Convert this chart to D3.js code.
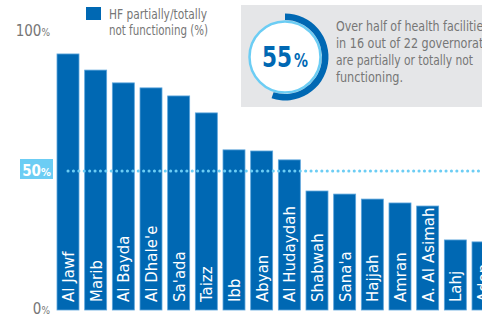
<!DOCTYPE html>
<html>
<head>
<meta charset="utf-8">
<script src="https://cdn.jsdelivr.net/npm/d3@7"></script>
<style>
  html, body { margin: 0; padding: 0; background: #fff; }
  svg { display: block; }
  text { font-family: "Liberation Sans Narrow", "DejaVu Sans Condensed", "Roboto Condensed", sans-serif; }
</style>
</head>
<body>
<svg id="chart" width="482" height="319"></svg>
<script>
const categories = ["Al Jawf","Marib","Al Bayda","Al Dhale'e","Sa'ada","Taizz","Ibb","Abyan","Al Hudaydah","Shabwah","Sana'a","Hajjah","Amran","A. Al Asimah","Lahj","Aden"];
const values = [92.1, 86.3, 81.7, 79.9, 77.0, 70.9, 57.6, 57.2, 54.0, 42.8, 41.7, 39.9, 38.5, 37.4, 25.2, 24.5];
const yTicks = [0, 50, 100];
const threshold = 50;
const seriesLabel = ["HF partially/totally", "not functioning (%)"];
const calloutValue = 55;
const calloutText = ["Over half of health facilities", "in 16 out of 22 governorates", "are partially or totally not", "functioning."];

const svg = d3.select("#chart");
const W = 482, H = 319;

const x = d3.scaleBand().domain(categories).range([57, 494]).paddingInner(0.205).paddingOuter(0);
const y = d3.scaleLinear().domain([0, 100]).range([310, 32]);

const blue = "#0068b3";
const light = "#6ccdf4";
const gray = "#767676";

// callout box
const box = svg.append("g");
box.append("rect").attr("x", 241).attr("y", 5).attr("width", 260).attr("height", 102).attr("fill", "#e5e6e8");
const cx = 285, cy = 57;
box.append("circle").attr("cx", cx).attr("cy", cy).attr("r", 35.5).attr("fill", "#fff").attr("stroke", light).attr("stroke-width", 2.5);
const arc = d3.arc().innerRadius(37).outerRadius(43.5).startAngle(0).endAngle(2 * Math.PI * calloutValue / 100);
box.append("path").attr("transform", `translate(${cx},${cy})`).attr("d", arc()).attr("fill", blue);
box.append("text").attr("x", cx + 7).attr("y", cy + 10).attr("text-anchor", "end")
  .attr("fill", blue).attr("font-size", 29).attr("font-weight", "bold")
  .attr("textLength", 30).attr("lengthAdjust", "spacingAndGlyphs").text(calloutValue);
box.append("text").attr("x", cx + 9).attr("y", cy + 10).attr("text-anchor", "start")
  .attr("fill", blue).attr("font-size", 19).attr("font-weight", "bold")
  .attr("textLength", 14).attr("lengthAdjust", "spacingAndGlyphs").text("%");
const capLen = [153, 160, 137, 67];
box.selectAll("text.cap").data(calloutText).join("text").attr("class", "cap")
  .attr("x", 336).attr("y", (d, i) => 31 + i * 17).attr("fill", gray).attr("font-size", 14.8)
  .attr("textLength", (d, i) => capLen[i]).attr("lengthAdjust", "spacingAndGlyphs").text(d => d);

// legend
svg.append("rect").attr("x", 86).attr("y", 7).attr("width", 15).attr("height", 13).attr("fill", blue);
const legLen = [98, 99];
svg.selectAll("text.leg").data(seriesLabel).join("text").attr("class", "leg")
  .attr("x", 109).attr("y", (d, i) => 19 + i * 16).attr("fill", gray).attr("font-size", 13.8)
  .attr("textLength", (d, i) => legLen[i]).attr("lengthAdjust", "spacingAndGlyphs").text(d => d);

// bars
svg.selectAll("rect.bar").data(categories).join("rect").attr("class", "bar")
  .attr("x", d => x(d)).attr("width", x.bandwidth())
  .attr("y", (d, i) => y(values[i])).attr("height", (d, i) => y(0) - y(values[i]))
  .attr("fill", blue).attr("stroke", "#5ea6dc").attr("stroke-width", 0.8);

// bar labels
svg.selectAll("text.lab").data(categories).join("text").attr("class", "lab")
  .attr("transform", d => `translate(${x(d) + x.bandwidth() / 2 + 6},${y(0) - 8}) rotate(-90)`)
  .attr("fill", "#fff").attr("font-size", 16.5).attr("letter-spacing", 0.1).text(d => d);

// threshold line
svg.append("line").attr("x1", 68).attr("x2", W).attr("y1", y(threshold)).attr("y2", y(threshold))
  .attr("stroke", light).attr("stroke-width", 3).attr("stroke-linecap", "round").attr("stroke-dasharray", "0.1 5.3");

// y tick labels
yTicks.forEach(t => {
  if (t === threshold) {
    svg.append("rect").attr("x", 20).attr("y", y(t) - 12).attr("width", 33).attr("height", 20).attr("fill", light);
    const tt = svg.append("text").attr("x", 36.5).attr("y", y(t) + 5).attr("text-anchor", "middle")
      .attr("fill", "#fff").attr("font-size", 15).attr("font-weight", "bold");
    tt.append("tspan").text(t);
    tt.append("tspan").attr("font-size", 11).text("%");
  } else {
    const tt = svg.append("text").attr("x", 50).attr("y", y(t) + 4).attr("text-anchor", "end")
      .attr("fill", gray).attr("font-size", 15);
    tt.append("tspan").text(t);
    tt.append("tspan").attr("font-size", 10).text("%");
  }
});
</script>
</body>
</html>
